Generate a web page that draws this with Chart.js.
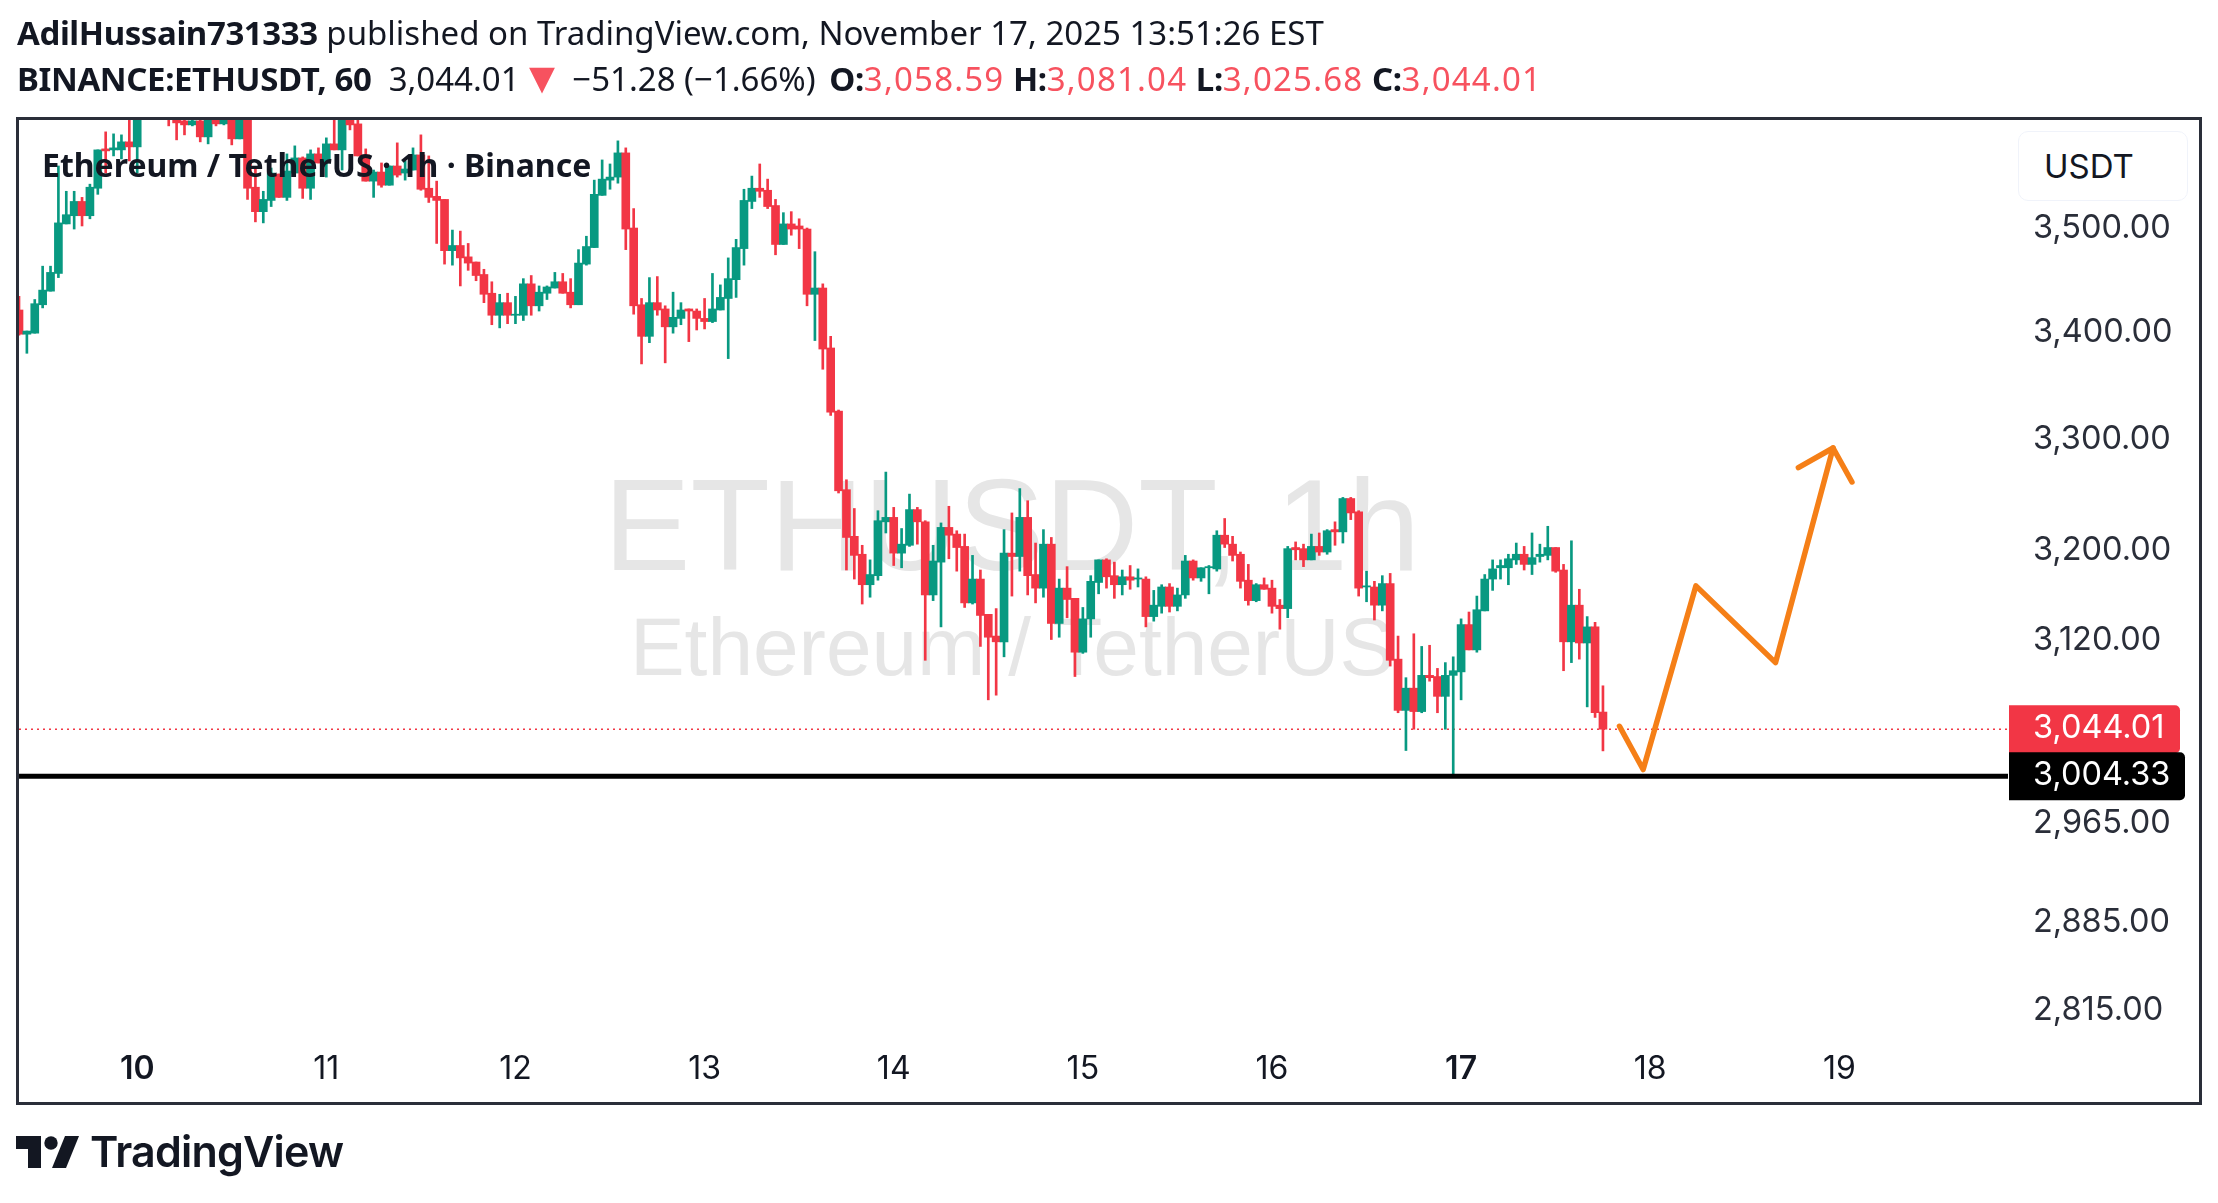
<!DOCTYPE html>
<html>
<head>
<meta charset="utf-8">
<title>ETHUSDT 1h</title>
<script src="https://cdn.jsdelivr.net/npm/chart.js@4"></script>
<style>
    html, body { margin: 0; padding: 0; background: #fff; width: 2218px; height: 1203px; overflow: hidden; }
    div, svg, canvas { position: absolute; }
    .head { left: 17px; font-family: "Noto Sans"; font-size: 33px; color: #131722; white-space: pre; line-height: 44px; }
    .head b { font-weight: 700; letter-spacing: -0.4px; }
    .red { color: #f7525f; letter-spacing: 1.2px; }
    .tri { color: #f7525f; font-size: 44px; line-height: 0; vertical-align: -2px; margin-left: -8px; }
    #frame { left: 16px; top: 117px; width: 2186px; height: 988px; box-sizing: border-box; border: 3px solid #2a2e39; z-index: 3; }
    .mark { left: 19px; width: 1986px; text-align: center; color: #e6e6e6; font-family: "Liberation Sans"; white-space: pre; }
    #title { left: 42px; top: 143px; font-family: "Noto Sans"; font-weight: 700; font-size: 32px; line-height: 44px; color: #131722; white-space: pre; z-index: 2; }
    #unit { left: 2018px; top: 131px; width: 170px; height: 70px; box-sizing: border-box; border: 1px solid #f0f3fa; border-radius: 10px; background: #fff;
            font-family: Inter; font-size: 33px; line-height: 68px; color: #131722; padding-left: 25px; z-index: 2; }
    #logoText { left: 90px; top: 1125px; font-family: Inter; font-weight: 600; font-size: 43px; line-height: 52px; letter-spacing: -0.8px; color: #131722; }
</style>
</head>
<body>
<div class="mark" style="top:450px;font-size:130px;line-height:150px;">ETHUSDT, 1h</div>
<div class="mark" style="top:601px;font-size:82px;line-height:92px;">Ethereum / TetherUS</div>
<canvas id="chart" width="2218" height="1203" style="left:0;top:0;"></canvas>
<div class="head" style="top:11px;"><b>AdilHussain731333</b> published on TradingView.com, November 17, 2025 13:51:26 EST</div>
<div class="head" style="top:57px;"><b>BINANCE:ETHUSDT, 60</b>  3,044.01 <span class="tri">▼</span> −51.28 (−1.66%) <b style="margin-left:5px;">O:</b><span class="red">3,058.59</span> <b>H:</b><span class="red">3,081.04</span> <b>L:</b><span class="red">3,025.68</span> <b>C:</b><span class="red">3,044.01</span></div>
<div id="title">Ethereum / TetherUS · 1h · Binance</div>
<div id="unit">USDT</div>
<div id="frame"></div>
<svg style="left:16px;top:1136px;" width="64" height="33" viewBox="0 0 64 33" fill="#131722">
    <path d="M0 0H25V32H12V13H0Z"/><circle cx="35" cy="7" r="6.7"/><path d="M49 0H63L50 32H36Z"/>
</svg>
<div id="logoText">TradingView</div>

<script>
// hour of the first candle, counted from Nov 10 00:00
const firstHour = -15

// candles, one per hour
const opens = [
    3421,3398,3399,3426,3439,3456,3504,3512,3526,3512,
    3539,3578,3577,3577,3585,3580,3618,3630,3625,3622,
    3612,3606,3602,3606,3590,3610,3603,3607,3588,3610,
    3540,3516,3527,3553,3530,3554,3569,3539,3573,3564,
    3583,3577,3607,3603,3572,3546,3555,3542,3561,3554,
    3557,3572,3539,3531,3528,3478,3483,3472,3467,3455,
    3437,3416,3428,3416,3416,3446,3425,3437,3442,3448,
    3438,3426,3465,3481,3532,3547,3550,3574,3500,3426,
    3396,3428,3422,3405,3413,3422,3420,3413,3410,3421,
    3432,3450,3480,3526,3539,3537,3522,3484,3504,3502,
    3499,3436,3442,3385,3326,3254,3212,3196,3169,3177,
    3225,3229,3197,3204,3236,3225,3160,3189,3220,3214,
    3203,3153,3174,3143,3124,3119,3197,3194,3229,3178,
    3166,3205,3135,3166,3157,3110,3139,3171,3191,3177,
    3169,3176,3174,3174,3141,3150,3167,3150,3160,3190,
    3175,3184,3183,3213,3205,3196,3173,3155,3169,3166,
    3151,3148,3202,3201,3191,3203,3198,3218,3216,3246,
    3234,3167,3167,3151,3170,3104,3060,3079,3059,3090,
    3089,3072,3090,3093,3134,3112,3146,3174,3184,3184,
    3191,3196,3187,3194,3195,3202,3182,3119,3151,3118,
    3132,3058.59
]
const closes = [
    3398,3401,3427,3440,3457,3505,3513,3526,3512,3540,
    3577,3576,3579,3585,3580,3618,3630,3625,3622,3612,
    3604,3602,3606,3590,3607,3603,3607,3588,3607,3539,
    3516,3528,3554,3530,3556,3569,3539,3573,3564,3583,
    3577,3610,3602,3571,3546,3555,3542,3561,3552,3558,
    3572,3538,3530,3527,3478,3483,3471,3466,3454,3436,
    3416,3428,3416,3417,3446,3425,3438,3443,3448,3437,
    3426,3466,3482,3533,3548,3550,3574,3499,3425,3396,
    3428,3421,3405,3414,3421,3420,3413,3410,3422,3433,
    3451,3481,3527,3539,3536,3521,3484,3504,3499,3499,
    3436,3442,3384,3325,3253,3211,3195,3169,3178,3226,
    3229,3197,3205,3236,3225,3160,3190,3220,3213,3202,
    3153,3174,3142,3123,3119,3197,3194,3229,3177,3166,
    3205,3135,3166,3156,3110,3139,3172,3191,3176,3169,
    3176,3173,3175,3141,3151,3167,3150,3160,3190,3175,
    3184,3185,3213,3205,3195,3172,3155,3169,3165,3150,
    3148,3201,3200,3191,3203,3198,3217,3216,3246,3233,
    3166,3168,3151,3170,3103,3060,3079,3059,3090,3088,
    3072,3090,3094,3134,3112,3147,3174,3183,3186,3192,
    3196,3187,3193,3196,3202,3181,3119,3151,3118,3132,
    3058,3044.01
]
const highs = [
    3434,3401,3431,3463,3463,3561,3536,3536,3530,3543,
    3577,3595,3593,3592,3612,3625,3640,3645,3638,3630,
    3620,3612,3607,3612,3615,3615,3612,3612,3610,3618,
    3559,3536,3559,3553,3573,3581,3570,3577,3579,3589,
    3612,3618,3612,3607,3578,3557,3564,3561,3584,3566,
    3579,3592,3571,3546,3528,3498,3497,3485,3467,3460,
    3448,3436,3437,3434,3451,3454,3444,3444,3457,3456,
    3451,3479,3492,3547,3567,3563,3586,3579,3519,3432,
    3452,3453,3425,3438,3428,3422,3422,3432,3456,3445,
    3471,3489,3538,3551,3563,3548,3528,3515,3516,3509,
    3500,3477,3446,3396,3327,3263,3237,3204,3191,3235,
    3270,3238,3219,3250,3238,3226,3204,3224,3239,3217,
    3214,3195,3182,3143,3148,3218,3233,3255,3244,3206,
    3218,3211,3174,3185,3157,3149,3177,3191,3192,3189,
    3182,3186,3183,3176,3164,3169,3170,3166,3195,3191,
    3184,3186,3217,3228,3212,3198,3187,3170,3175,3173,
    3156,3203,3207,3205,3214,3215,3218,3225,3247,3247,
    3235,3181,3172,3177,3179,3124,3088,3126,3115,3116,
    3096,3101,3106,3139,3145,3159,3178,3191,3191,3196,
    3206,3203,3215,3205,3221,3202,3187,3208,3165,3141,
    3136,3081.04
]
const lows = [
    3397,3380,3399,3423,3439,3452,3504,3499,3502,3509,
    3533,3554,3571,3568,3566,3554,3612,3615,3612,3601,
    3587,3592,3601,3585,3583,3601,3602,3582,3588,3528,
    3506,3505,3521,3530,3527,3554,3529,3528,3564,3550,
    3577,3557,3597,3571,3546,3530,3540,3542,3550,3547,
    3557,3537,3525,3485,3465,3464,3444,3459,3449,3428,
    3407,3404,3408,3408,3411,3416,3420,3431,3442,3437,
    3423,3426,3464,3481,3532,3538,3544,3479,3417,3370,
    3390,3416,3371,3399,3407,3391,3402,3403,3409,3421,
    3375,3433,3464,3519,3530,3519,3474,3484,3493,3480,
    3425,3392,3365,3322,3251,3182,3174,3152,3158,3173,
    3215,3186,3184,3203,3205,3103,3155,3132,3192,3181,
    3149,3152,3115,3069,3073,3106,3159,3181,3160,3153,
    3158,3121,3123,3140,3089,3109,3123,3161,3166,3157,
    3160,3165,3167,3132,3137,3144,3145,3146,3157,3173,
    3172,3161,3181,3202,3190,3166,3151,3154,3165,3144,
    3130,3140,3191,3185,3191,3195,3196,3204,3206,3227,
    3159,3154,3138,3146,3098,3058,3026,3044,3058,3085,
    3058,3044,3004.33,3069,3112,3110,3146,3164,3174,3169,
    3187,3182,3178,3189,3191,3180,3094,3101,3104,3063,
    3054,3025.68
]

// axes
const priceTicks = [3500, 3400, 3300, 3200, 3120, 2965, 2885, 2815]
const dayTicks = [0, 24, 48, 72, 96, 120, 144, 168, 192, 216]
const dayLabels = ['10', '11', '12', '13', '14', '15', '16', '17', '18', '19']
const boldDays = ['10', '17']
const priceMin = 2791.6
const priceMax = 3606.9
const hourMin = -15
const hourMax = 237.4

// levels and the drawn forecast
const lastPrice = 3044.01
const supportPrice = 3004.33
const pathHours = [188.1, 191.1, 197.8, 207.9, 215.2]
const pathPrices = [3046.5, 3010, 3168, 3101, 3292]
const arrowHours = [210.8, 215.2, 217.6]
const arrowPrices = [3274, 3292, 3261]

const UP = '#089981'
const DOWN = '#f23645'

const candleColors = opens.map((o, i) => closes[i] >= o ? UP : DOWN)

function money(v) {
    return v.toLocaleString('en-US', { minimumFractionDigits: 2, maximumFractionDigits: 2 })
}

function points(xs, ys) {
    return xs.map((x, i) => ({ x: x, y: ys[i] }))
}

function lineSet(data, color, width, order, extra) {
    return Object.assign({
        type: 'line',
        data: data,
        borderColor: color,
        borderWidth: width,
        pointRadius: 0,
        tension: 0,
        order: order
    }, extra || {})
}

// price labels sitting on the axis
const priceTags = {
    id: 'priceTags',
    afterDraw(chart) {
        const ctx = chart.ctx
        const area = chart.chartArea
        const y = chart.scales.y
        const tags = [
            { price: lastPrice, color: DOWN, right: 2180 },
            { price: supportPrice, color: '#000000', right: 2185 }
        ]
        ctx.save()
        ctx.font = '32.5px Inter'
        ctx.textBaseline = 'middle'
        tags.forEach(t => {
            const py = y.getPixelForValue(t.price)
            ctx.fillStyle = t.color
            ctx.beginPath()
            ctx.roundRect(area.right + 1, py - 24, t.right - area.right - 1, 48, [0, 5, 5, 0])
            ctx.fill()
            ctx.fillStyle = '#ffffff'
            ctx.fillText(money(t.price), 2033, py - 1)
        })
        ctx.restore()
    }
}

function dayFont(c) {
    const label = c.tick ? dayLabels[dayTicks.indexOf(c.tick.value)] : ''
    return { family: 'Inter', size: 32, weight: boldDays.includes(label) ? '600' : '400' }
}

new Chart(document.getElementById('chart'), {
    type: 'bar',
    data: {
        datasets: [
            lineSet(points([hourMin, hourMax], [supportPrice, supportPrice]), '#000000', 5, 1),
            lineSet(points(pathHours, pathPrices), '#f57f17', 5.5, 0, { borderCapStyle: 'round', borderJoinStyle: 'round' }),
            lineSet(points(arrowHours, arrowPrices), '#f57f17', 5.5, 0, { borderCapStyle: 'round', borderJoinStyle: 'round' }),
            {
                // bodies
                data: opens.map((o, i) => ({ x: firstHour + i, y: [o, closes[i]] })),
                backgroundColor: candleColors,
                barThickness: 8,
                minBarLength: 1,
                grouped: false,
                order: 2
            },
            {
                // wicks
                data: lows.map((l, i) => ({ x: firstHour + i, y: [l, highs[i]] })),
                backgroundColor: candleColors,
                barThickness: 2,
                grouped: false,
                order: 3
            },
            lineSet(points([hourMin, hourMax], [lastPrice, lastPrice]), DOWN, 1.5, 4, { borderDash: [2, 4] })
        ]
    },
    plugins: [priceTags],
    options: {
        responsive: false,
        animation: false,
        devicePixelRatio: 1,
        layout: { padding: { left: 19, top: 120, right: 0, bottom: 0 } },
        plugins: { legend: { display: false }, tooltip: { enabled: false } },
        scales: {
            x: {
                type: 'linear',
                offset: false,
                min: hourMin,
                max: hourMax,
                grid: { display: false },
                border: { display: false },
                afterBuildTicks: axis => { axis.ticks = dayTicks.map(v => ({ value: v })) },
                afterFit: axis => { axis.height = 163 },
                ticks: {
                    autoSkip: false,
                    maxRotation: 0,
                    padding: 2,
                    color: '#131722',
                    font: dayFont,
                    callback: v => dayLabels[dayTicks.indexOf(v)]
                }
            },
            y: {
                type: 'logarithmic',
                position: 'right',
                min: priceMin,
                max: priceMax,
                grid: { display: false },
                border: { display: false },
                afterBuildTicks: axis => { axis.ticks = priceTicks.map(v => ({ value: v })) },
                afterFit: axis => { axis.width = 210 },
                ticks: {
                    autoSkip: false,
                    crossAlign: 'near',
                    padding: 17,
                    labelOffset: 0,
                    color: '#2a2e39',
                    font: { family: 'Inter', size: 32.5 },
                    callback: v => money(v)
                }
            }
        }
    }
})
</script>
</body>
</html>
